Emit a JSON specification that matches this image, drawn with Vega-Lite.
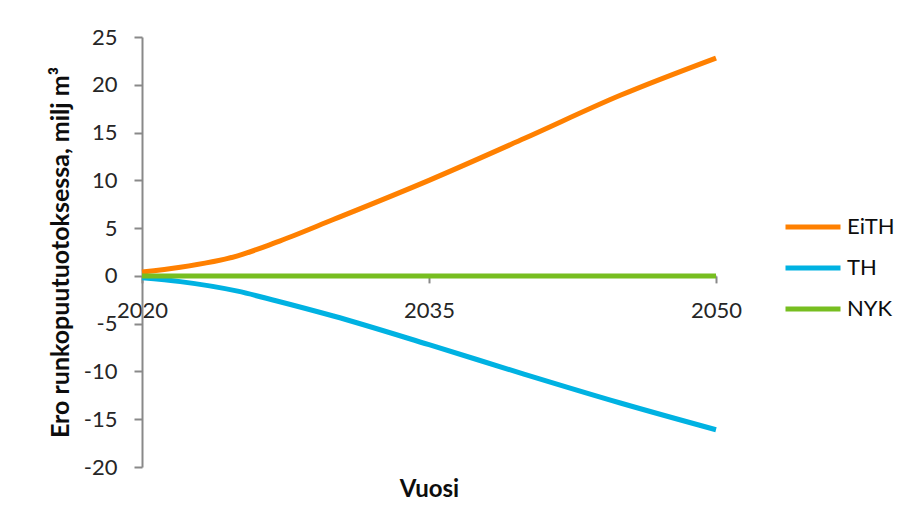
{
  "$schema": "https://vega.github.io/schema/vega-lite/v6.json",
  "width": 574,
  "height": 430,
  "autosize": "none",
  "padding": {"left": 142, "top": 37, "right": 190, "bottom": 64},
  "background": "white",
  "config": {
    "view": {"stroke": null},
    "font": "Lato"
  },
  "data": {
    "values": [
      {"year": 2020, "s": "EiTH", "v": 0.4},
      {"year": 2022, "s": "EiTH", "v": 0.9},
      {"year": 2025, "s": "EiTH", "v": 2.1},
      {"year": 2027, "s": "EiTH", "v": 3.5},
      {"year": 2030, "s": "EiTH", "v": 5.9},
      {"year": 2035, "s": "EiTH", "v": 10.0},
      {"year": 2040, "s": "EiTH", "v": 14.4},
      {"year": 2045, "s": "EiTH", "v": 18.9},
      {"year": 2050, "s": "EiTH", "v": 22.8},
      {"year": 2020, "s": "TH", "v": -0.2},
      {"year": 2022, "s": "TH", "v": -0.6},
      {"year": 2025, "s": "TH", "v": -1.6},
      {"year": 2027, "s": "TH", "v": -2.6},
      {"year": 2030, "s": "TH", "v": -4.2},
      {"year": 2035, "s": "TH", "v": -7.2},
      {"year": 2040, "s": "TH", "v": -10.3},
      {"year": 2045, "s": "TH", "v": -13.3},
      {"year": 2050, "s": "TH", "v": -16.1},
      {"year": 2020, "s": "NYK", "v": 0},
      {"year": 2025, "s": "NYK", "v": 0},
      {"year": 2030, "s": "NYK", "v": 0},
      {"year": 2035, "s": "NYK", "v": 0},
      {"year": 2040, "s": "NYK", "v": 0},
      {"year": 2045, "s": "NYK", "v": 0},
      {"year": 2050, "s": "NYK", "v": 0}
    ]
  },
  "mark": {"type": "line", "interpolate": "monotone", "strokeWidth": 5, "strokeCap": "butt", "clip": false},
  "encoding": {
    "x": {
      "field": "year",
      "type": "quantitative",
      "scale": {"domain": [2020, 2050], "nice": false, "zero": false},
      "axis": {
        "values": [2020, 2035, 2050],
        "format": "d",
        "offset": -191.1,
        "grid": false,
        "domainColor": "#898989",
        "domainWidth": 2,
        "tickColor": "#898989",
        "tickWidth": 2,
        "tickSize": 7,
        "labelFontSize": 22,
        "labelColor": "#262626",
        "labelPadding": 18,
        "labelFlush": false,
        "labelOverlap": false,
        "title": "Vuosi",
        "titleFontSize": 24,
        "titleFontWeight": "bold",
        "titleColor": "#0d0d0d",
        "titleY": 214,
        "titleX": 287,
        "titleBaseline": "middle",
        "titleAlign": "center"
      }
    },
    "y": {
      "field": "v",
      "type": "quantitative",
      "scale": {"domain": [-20, 25], "nice": false, "zero": false},
      "axis": {
        "values": [-20, -15, -10, -5, 0, 5, 10, 15, 20, 25],
        "labelExpr": "'' + datum.value",
        "grid": false,
        "domainColor": "#898989",
        "domainWidth": 2,
        "tickColor": "#898989",
        "tickWidth": 2,
        "tickSize": 8,
        "labelFontSize": 22,
        "labelColor": "#262626",
        "labelPadding": 17,
        "title": "Ero runkopuutuotoksessa,  milj m³",
        "titleFontSize": 25,
        "titleFontWeight": "bold",
        "titleColor": "#0d0d0d",
        "titleX": -82,
        "titleY": 215,
        "titleAngle": -90,
        "titleAlign": "center",
        "titleBaseline": "middle"
      }
    },
    "color": {
      "field": "s",
      "type": "nominal",
      "scale": {"domain": ["EiTH", "TH", "NYK"], "range": ["#FF8000", "#00B2E2", "#77BE20"]},
      "sort": ["EiTH", "TH", "NYK"],
      "legend": {
        "title": null,
        "orient": "none",
        "legendX": 641,
        "legendY": 160,
        "padding": 0,
        "symbolType": "stroke",
        "symbolSize": 3025,
        "symbolStrokeWidth": 5,
        "rowPadding": -7,
        "labelFontSize": 22,
        "labelColor": "#0d0d0d",
        "labelOffset": 4
      }
    },
    "order": {"field": "s", "sort": "ascending"}
  }
}
